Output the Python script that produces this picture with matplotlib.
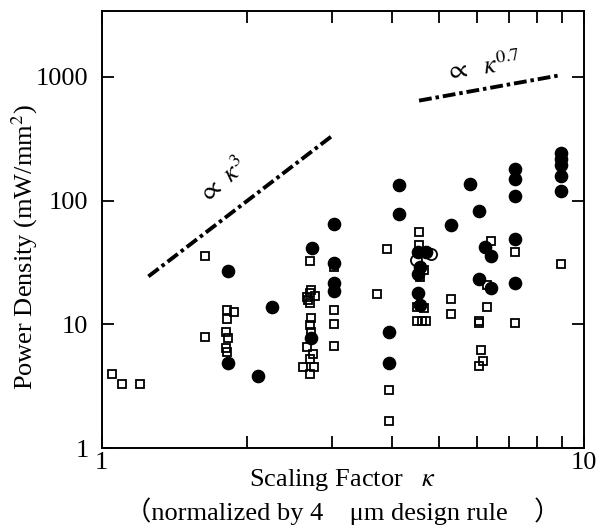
import matplotlib
matplotlib.use('Agg')
import matplotlib.pyplot as plt
from matplotlib.ticker import NullLocator

# open squares
sq_x = [1.05, 1.10, 1.20, 1.64, 1.64, 1.82, 1.88, 1.82, 1.81, 1.83, 1.81, 1.82,
        2.70, 2.71, 2.67, 2.77, 2.70, 2.70, 2.68, 2.72, 2.70, 2.72, 2.67, 2.74,
        2.70, 2.62, 2.75, 2.70, 3.03, 3.03, 3.03, 3.03, 3.91, 3.73, 3.94, 3.94,
        4.55, 4.55, 4.65, 4.57, 4.50, 4.66, 4.50, 4.61, 4.70, 5.30, 5.30, 6.42,
        6.29, 6.29, 6.07, 6.07, 6.12, 6.18, 6.07, 7.21, 7.21, 8.97]
sq_y = [4.0, 3.3, 3.3, 35.5, 7.9, 13.0, 12.5, 11.0, 8.7, 7.7, 6.4, 6.0,
        32.4, 18.9, 16.7, 17.0, 17.8, 14.8, 15.8, 11.3, 9.9, 8.7, 6.6, 5.8,
        5.3, 4.55, 4.55, 4.0, 29.1, 13.0, 10.0, 6.7, 40.7, 17.6, 2.95, 1.67,
        55.2, 43.6, 27.4, 24.2, 13.9, 13.5, 10.6, 10.6, 10.6, 15.9, 12.2, 47.0,
        20.7, 13.9, 10.7, 10.3, 6.2, 5.1, 4.6, 38.1, 10.3, 31.0]

# filled circles
dot_x = [1.83, 1.83, 2.26, 2.11, 2.73, 2.72, 3.03, 3.03, 3.03, 3.03,
         4.14, 4.14, 3.94, 3.94, 4.53, 4.70, 4.57, 4.52, 4.53, 4.57,
         5.30, 5.81, 6.07, 6.24, 6.42, 6.07, 6.42,
         7.21, 7.21, 7.21, 7.21, 7.21, 8.97, 8.97, 8.97, 8.97, 8.97]
dot_y = [26.9, 4.85, 13.7, 3.83, 41.5, 7.8, 64.4, 31.6, 21.6, 18.7,
         133, 77.5, 8.7, 4.9, 38.1, 38.1, 29.2, 25.5, 18.0, 14.3,
         63.2, 135, 82.4, 42.3, 35.5, 23.2, 19.5,
         179, 150, 108, 48.5, 21.7, 242, 218, 193, 157, 119]

# open circles
ring_x = [4.82, 4.48]
ring_y = [36.9, 33.0]

# trend lines (end points)
k3_x = [1.25, 3.0]
k3_y = [24.4, 331]
k07_x = [4.55, 8.89]
k07_y = [640, 1023]

plt.rcParams['font.family'] = ['Liberation Serif', 'Noto Sans CJK JP']
plt.rcParams['mathtext.fontset'] = 'stix'

fig = plt.figure(figsize=(6.02, 5.27), dpi=100)
ax = fig.add_axes([0.1689, 0.1493, 0.8012, 0.8303])

ax.plot(sq_x, sq_y, 's', ms=6.3, mfc='none', mec='black', mew=1.3)
ax.plot(dot_x, dot_y, 'o', ms=8.8, color='black')
ax.plot(ring_x, ring_y, 'o', ms=8.0, mfc='none', mec='black', mew=1.3)

dash = (0, (3.3, 1.0, 0.9, 1.0))
ax.plot(k3_x, k3_y, color='black', lw=2.8, ls=dash)
ax.plot(k07_x, k07_y, color='black', lw=2.8, ls=dash)

ax.text(1.78, 146, r'$\propto\ \kappa^3$', rotation=40, ha='center', va='center', fontsize=19)
ax.text(6.18, 1189, r'$\propto\ \ \kappa^{0.7}$', rotation=8, ha='center', va='center', fontsize=19)

ax.set_xscale('log')
ax.set_yscale('log')
ax.set_xlim(1, 10)
ax.set_ylim(1, 3400)
ax.set_xticks([1, 10], ['1', '10'])
ax.set_xticks([2, 3, 4, 5, 6, 7, 8, 9], ['']*8, minor=True)
ax.set_yticks([1, 10, 100, 1000], ['1', '10', '100', '1000'])
ax.yaxis.set_minor_locator(NullLocator())
ax.tick_params(which='both', direction='in', top=True, right=True,
               width=1.3, length=8.5, labelsize=19)
ax.tick_params(axis='y', pad=9.5)
ax.tick_params(axis='x', pad=2.5)
for s in ax.spines.values():
    s.set_linewidth(1.4)

ax.set_ylabel('Power Density (mW/mm$^2$)', fontsize=19)
ax.yaxis.set_label_coords(-0.128, 0.46)
ax.text(0.5, -0.0724, 'Scaling Factor   $\\kappa$', transform=ax.transAxes,
        ha='center', va='center', fontsize=19)
ax.text(0.5, -0.143, '（normalized by 4　μm design rule　）', transform=ax.transAxes,
        ha='center', va='center', fontsize=19)

fig.savefig('out.png', dpi=100)
